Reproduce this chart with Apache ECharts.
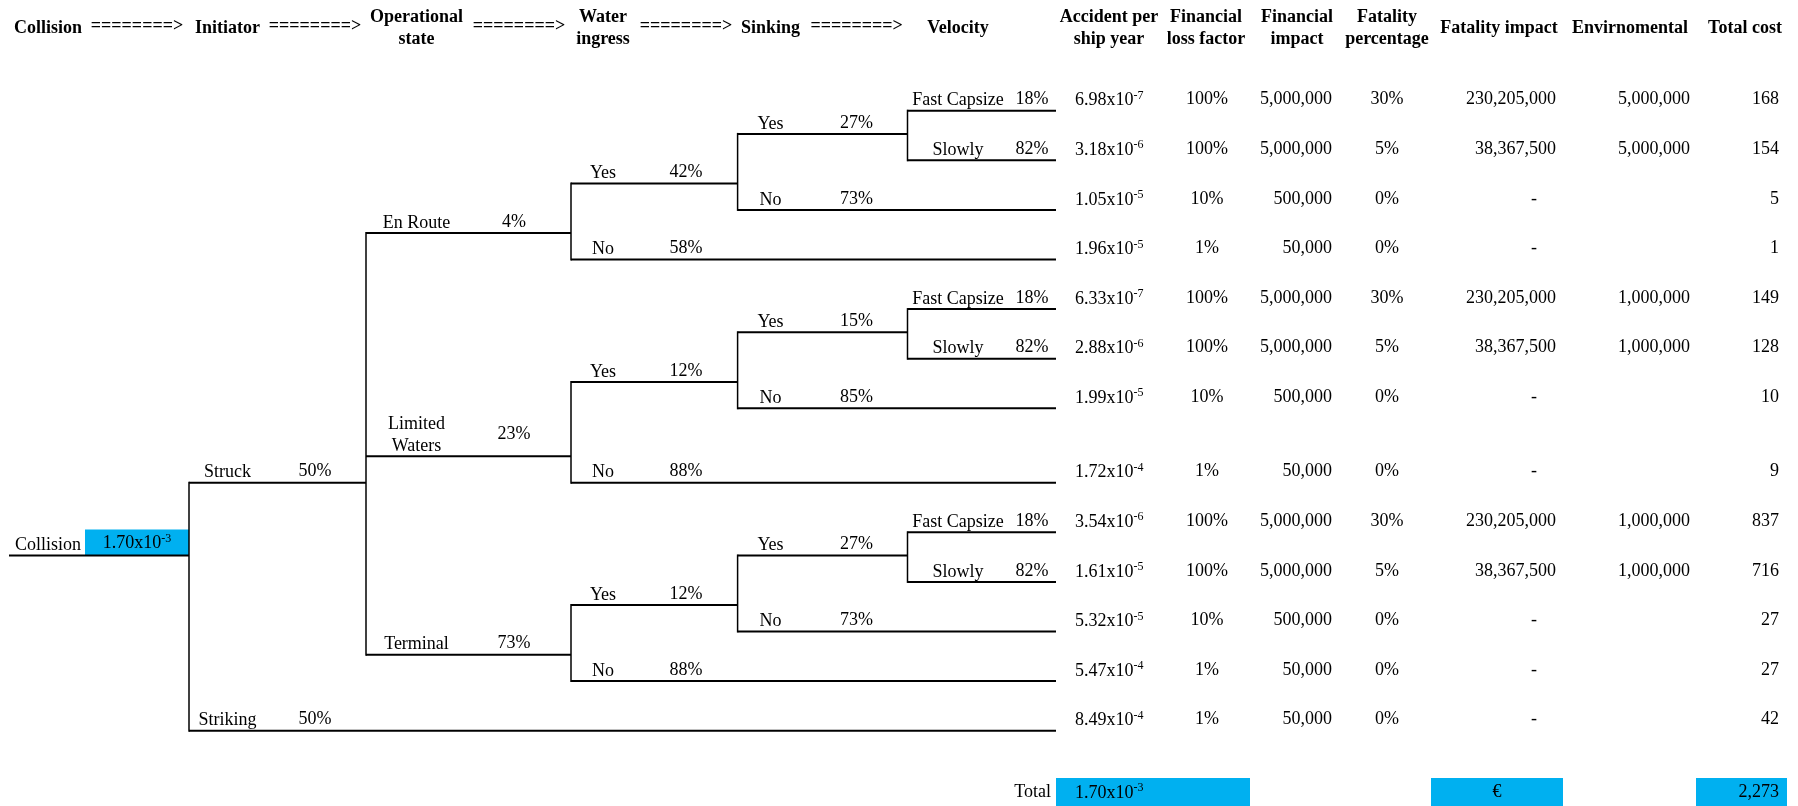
<!DOCTYPE html>
<html>
<head>
<meta charset="utf-8">
<title>Collision event tree</title>
<script src="https://cdn.jsdelivr.net/npm/echarts@6/dist/echarts.min.js"></script>
<style>
  html, body { margin: 0; padding: 0; background: #fff; }
  #tree { width: 1798px; height: 806px; }
</style>
</head>
<body>
<div id="tree"></div>
<script>
// column titles
var stageTitles = ['Collision', 'Initiator', 'Operational\nstate', 'Water\ningress', 'Sinking', 'Velocity'];
var tableTitles = ['Accident per\nship year', 'Financial\nloss factor', 'Financial\nimpact', 'Fatality\npercentage', 'Fatality impact', 'Envirnomental', 'Total cost'];
var arrowText = '========>';

// event tree branches: parent = index of parent branch, probability in %
var branchLabels = ['Collision', 'Struck', 'En Route', 'Yes', 'Yes', 'Fast Capsize', 'Slowly', 'No', 'No',
  'Limited\nWaters', 'Yes', 'Yes', 'Fast Capsize', 'Slowly', 'No', 'No',
  'Terminal', 'Yes', 'Yes', 'Fast Capsize', 'Slowly', 'No', 'No', 'Striking'];
var branchParents = [-1, 0, 1, 2, 3, 4, 4, 3, 2, 1, 9, 10, 11, 11, 10, 9, 1, 16, 17, 18, 18, 17, 16, 0];
var branchProbs = [null, 50, 4, 42, 27, 18, 82, 73, 58, 23, 12, 15, 18, 82, 85, 88, 73, 12, 27, 18, 82, 73, 88, 50];

// collision frequency per ship year (mantissa, exponent)
var collisionFreq = [1.70, -3];

// outcomes, one per end branch, top to bottom
var freqMantissa = [6.98, 3.18, 1.05, 1.96, 6.33, 2.88, 1.99, 1.72, 3.54, 1.61, 5.32, 5.47, 8.49];
var freqExponent = [-7, -6, -5, -5, -7, -6, -5, -4, -6, -5, -5, -4, -4];
var lossFactor = [100, 100, 10, 1, 100, 100, 10, 1, 100, 100, 10, 1, 1];
var financialImpact = [5000000, 5000000, 500000, 50000, 5000000, 5000000, 500000, 50000, 5000000, 5000000, 500000, 50000, 50000];
var fatalityPct = [30, 5, 0, 0, 30, 5, 0, 0, 30, 5, 0, 0, 0];
var fatalityImpact = [230205000, 38367500, 0, 0, 230205000, 38367500, 0, 0, 230205000, 38367500, 0, 0, 0];
var environmental = [5000000, 5000000, null, null, 1000000, 1000000, null, null, 1000000, 1000000, null, null, null];
var totalCost = [168, 154, 5, 1, 149, 128, 10, 9, 837, 716, 27, 27, 42];

// totals row
var totalFreq = [1.70, -3];
var totalCurrency = '€';
var totalCostSum = 2273;

// ---- layout ----
var FONT = '"Liberation Serif", "Times New Roman", serif';
var BLUE = '#00b0f0';
var labelX = [48, 227.5, 416.5, 603, 770.5, 958];   // label centre per level
var probX = [137, 315, 514, 686, 856.6, 1032];      // probability centre per level
var splitX = [189, 366, 571, 737.6, 907.5];         // where each level branches
var rootStartX = 9, leafEndX = 1056;
var firstLeafY = 110.7, leafStep = 49.6, halfStep = 26.4;
var gapAfterLeaf = 6;                  // extra half step below leaf 6
var alignTo = { 1: 15, 0: 18 };        // Struck / Collision sit on these lines
var colX = [1075, 1207, 1332, 1387, 1556, 1690, 1779];
var colAlign = ['left', 'center', 'right', 'center', 'right', 'right', 'right'];
var headX = [1109, 1206, 1297, 1387, 1499, 1630, 1745];
var headY = 28, totalY = 792, totalBoxTop = 778, totalBoxBottom = 806;
var totalBoxes = [[1056, 1250], [1431, 1563], [1696, 1787]];

var children = branchLabels.map(function () { return []; });
branchParents.forEach(function (p, i) { if (p >= 0) children[p].push(i); });
var depth = [];
branchParents.forEach(function (p, i) { depth[i] = p < 0 ? 0 : depth[p] + 1; });
var leaves = [];
function walk(i) { if (!children[i].length) leaves.push(i); children[i].forEach(walk); }
walk(0);
var branchY = [];
leaves.forEach(function (n, k) {
  branchY[n] = firstLeafY + leafStep * (k + (k > gapAfterLeaf ? 0.5 : 0));
});
function place(i) {
  if (branchY[i] != null) return branchY[i];
  var ys = children[i].map(place);
  branchY[i] = ys[ys.length - 1] - halfStep;
  return branchY[i];
}
place(0);
Object.keys(alignTo).forEach(function (k) { branchY[k] = branchY[alignTo[k]]; });

function fmt(n) { return String(n).replace(/\B(?=(\d{3})+(?!\d))/g, ','); }
function sci(m, e) { return '{b|' + m.toFixed(2) + 'x10}{s|' + e + '}'; }
var sciRich = {
  b: { fontSize: 18, fontFamily: FONT, lineHeight: 20, verticalAlign: 'bottom' },
  s: { fontSize: 12, fontFamily: FONT, lineHeight: 12, verticalAlign: 'top' }
};

function txt(p, text, align, vAlign, opts) {
  var st = {
    text: text, x: p[0], y: p[1], fill: '#000',
    fontSize: 18, fontFamily: FONT, fontWeight: 'normal', lineHeight: 22,
    align: align, textAlign: align, verticalAlign: vAlign, textVerticalAlign: vAlign
  };
  if (opts) Object.keys(opts).forEach(function (k) { st[k] = opts[k]; });
  return { type: 'text', style: st };
}
function hline(a, b, w) {
  return { type: 'line', shape: { x1: a[0], y1: a[1], x2: b[0], y2: b[1] }, style: { stroke: '#000', lineWidth: w } };
}

var branchData = branchLabels.map(function (l, i) {
  var d = depth[i];
  var x0 = d === 0 ? rootStartX : splitX[d - 1];
  var x1 = children[i].length ? splitX[d] : leafEndX;
  return [x0, x1, branchY[i], i];
});

function renderBranch(params, api) {
  var i = api.value(3), d = depth[i], y = api.value(2);
  var a = api.coord([api.value(0), y]);
  var b = api.coord([api.value(1), y]);
  var els = [];
  if (d === 0) {
    // blue cell holding the collision frequency
    var bt = api.coord([85, y - 26]);
    var bl = api.coord([splitX[0], y]);
    els.push({ type: 'rect', shape: { x: bt[0], y: bt[1], width: bl[0] - bt[0], height: bl[1] - bt[1] }, style: { fill: BLUE } });
    els.push(txt(api.coord([probX[0], y - 13]), sci(collisionFreq[0], collisionFreq[1]), 'center', 'middle', { rich: sciRich }));
  }
  els.push(hline(a, b, 2));
  if (children[i].length) {
    var ys = children[i].map(function (c) { return branchY[c]; });
    var t = api.coord([splitX[d], ys[0]]);
    var u = api.coord([splitX[d], ys[ys.length - 1]]);
    els.push({ type: 'line', shape: { x1: t[0], y1: t[1] - 1, x2: u[0], y2: u[1] + 1 }, style: { stroke: '#000', lineWidth: 1.5 } });
  }
  var nLines = branchLabels[i].split('\n').length;
  els.push(txt(api.coord([labelX[d], y + 1]), branchLabels[i], 'center', 'bottom'));
  if (branchProbs[i] != null) {
    els.push(txt(api.coord([probX[d], y - 11 * nLines]), branchProbs[i] + '%', 'center', 'middle'));
  }
  return { type: 'group', children: els };
}

var outcomeData = leaves.map(function (n, k) { return [branchY[n], k]; });

function renderOutcome(params, api) {
  var y = api.value(0) - 11, k = api.value(1);
  var vals = [
    sci(freqMantissa[k], freqExponent[k]),
    lossFactor[k] + '%',
    fmt(financialImpact[k]),
    fatalityPct[k] + '%',
    fatalityImpact[k] ? fmt(fatalityImpact[k]) : '-',
    environmental[k] == null ? '' : fmt(environmental[k]),
    fmt(totalCost[k])
  ];
  var els = vals.map(function (v, c) {
    var x = colX[c];
    if (c === 4 && !fatalityImpact[k]) x = colX[c] - 19;
    return txt(api.coord([x, y]), v, colAlign[c], 'middle', c === 0 ? { rich: sciRich } : null);
  });
  return { type: 'group', children: els };
}

var headerData = stageTitles.map(function (t, i) { return [labelX[i], headY, i]; })
  .concat(tableTitles.map(function (t, i) { return [headX[i], headY, 100 + i]; }))
  .concat([137, 315, 519, 686, 856.6].map(function (x, i) { return [x, headY - 2, 200 + i]; }));

function renderHeader(params, api) {
  var id = api.value(2);
  var text = id >= 200 ? arrowText : id >= 100 ? tableTitles[id - 100] : stageTitles[id];
  return txt(api.coord([api.value(0), api.value(1)]), text, 'center', 'middle', { fontWeight: 'bold' });
}

var totalData = totalBoxes.map(function (b, i) { return [b[0], b[1], i]; });

function renderTotal(params, api) {
  var i = api.value(2);
  var p0 = api.coord([api.value(0), totalBoxTop]);
  var p1 = api.coord([api.value(1), totalBoxBottom]);
  var els = [{ type: 'rect', shape: { x: p0[0], y: p0[1], width: p1[0] - p0[0], height: p1[1] - p0[1] }, style: { fill: BLUE } }];
  if (i === 0) {
    els.push(txt(api.coord([1051, totalY]), 'Total', 'right', 'middle'));
    els.push(txt(api.coord([colX[0], totalY]), sci(totalFreq[0], totalFreq[1]), 'left', 'middle', { rich: sciRich }));
  } else if (i === 1) {
    els.push(txt(api.coord([headX[4] - 2, totalY]), totalCurrency, 'center', 'middle'));
  } else {
    els.push(txt(api.coord([colX[6], totalY]), fmt(totalCostSum), 'right', 'middle'));
  }
  return { type: 'group', children: els };
}

var chart = echarts.init(document.getElementById('tree'));
chart.setOption({
  animation: false,
  backgroundColor: '#fff',
  grid: { left: 0, right: 0, top: 0, bottom: 0 },
  xAxis: { type: 'value', min: 0, max: 1798, show: false },
  yAxis: { type: 'value', min: 0, max: 806, inverse: true, show: false },
  series: [
    { type: 'custom', name: 'branches', renderItem: renderBranch, data: branchData, silent: true },
    { type: 'custom', name: 'outcomes', renderItem: renderOutcome, data: outcomeData, silent: true },
    { type: 'custom', name: 'headers', renderItem: renderHeader, data: headerData, silent: true },
    { type: 'custom', name: 'totals', renderItem: renderTotal, data: totalData, silent: true }
  ]
});
</script>
</body>
</html>
